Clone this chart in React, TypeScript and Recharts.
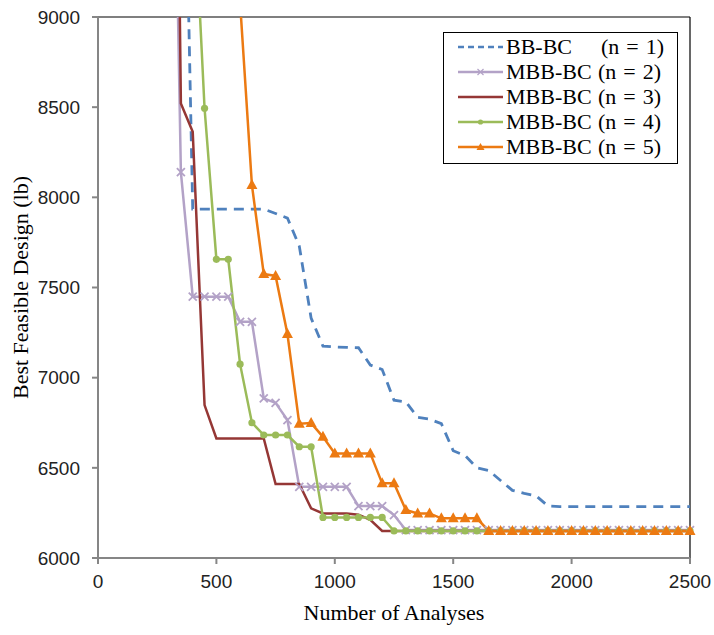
import React from 'react';
import { LineChart, Line, XAxis, YAxis, ReferenceLine } from 'recharts';

// number of analyses, sampled every 50
const analyses = [
  300, 350, 400, 450, 500, 550, 600, 650, 700, 750, 800, 850, 900, 950, 1000, 1050,
  1100, 1150, 1200, 1250, 1300, 1350, 1400, 1450, 1500, 1550, 1600, 1650, 1700, 1750,
  1800, 1850, 1900, 1950, 2000, 2050, 2100, 2150, 2200, 2250, 2300, 2350, 2400, 2450, 2500,
];

const bbbcN1 = [
  null, 11100, 7935, 7935, 7935, 7935, 7935, 7935, 7935, 7910, 7885, 7730, 7330, 7175, 7170, 7168,
  7166, 7070, 7045, 6875, 6866, 6780, 6770, 6745, 6595, 6568, 6500, 6485, 6430, 6375,
  6358, 6345, 6288, 6285, 6285, 6285, 6285, 6285, 6285, 6285, 6285, 6285, 6285, 6285, 6285,
];

const mbbcN2 = [
  11700, 8140, 7449, 7449, 7449, 7449, 7310, 7310, 6885, 6860, 6765, 6395, 6395, 6395, 6395, 6395,
  6288, 6288, 6288, 6238, 6155, 6155, 6155, 6155, 6155, 6155, 6155, 6155, 6155, 6155,
  6155, 6155, 6155, 6155, 6155, 6155, 6155, 6155, 6155, 6155, 6155, 6155, 6155, 6155, 6155,
];

const mbbcN3 = [
  14000, 8521, 8364, 6848, 6663, 6663, 6663, 6663, 6663, 6410, 6410, 6410, 6275, 6247, 6247, 6247,
  6240, 6212, 6150, 6150, 6150, 6150, 6150, 6150, 6150, 6150, 6150, 6150, 6150, 6150,
  6150, 6150, 6150, 6150, 6150, 6150, 6150, 6150, 6150, 6150, 6150, 6150, 6150, 6150, 6150,
];

const mbbcN4 = [
  null, null, 9825, 8494, 7656, 7656, 7075, 6750, 6682, 6682, 6682, 6617, 6617, 6225, 6225, 6225,
  6225, 6225, 6225, 6150, 6150, 6150, 6150, 6150, 6150, 6150, 6150, 6150, 6150, 6150,
  6150, 6150, 6150, 6150, 6150, 6150, 6150, 6150, 6150, 6150, 6150, 6150, 6150, 6150, 6150,
];

const mbbcN5 = [
  null, null, null, null, null, null, 9080, 8068, 7575, 7564, 7242, 6745, 6748, 6672, 6580, 6580,
  6580, 6580, 6414, 6414, 6266, 6247, 6247, 6220, 6220, 6220, 6220, 6150, 6150, 6150,
  6150, 6150, 6150, 6150, 6150, 6150, 6150, 6150, 6150, 6150, 6150, 6150, 6150, 6150, 6150,
];

const xTicks = [0, 500, 1000, 1500, 2000, 2500];
const yTicks = [6000, 6500, 7000, 7500, 8000, 8500, 9000];

const chartData = analyses.map((x, i) => ({
  x,
  n1: bbbcN1[i],
  n2: mbbcN2[i],
  n3: mbbcN3[i],
  n4: mbbcN4[i],
  n5: mbbcN5[i],
}));

const COLORS = {
  n1: '#4F81BD',
  n2: '#B3A2C7',
  n3: '#953735',
  n4: '#9BBB59',
  n5: '#EC7A12',
};

const serif = '"Liberation Serif", "Times New Roman", serif';
const sans = '"Liberation Sans", Arial, sans-serif';
const axisGray = '#868686';

function markerShape(shape: string, color: string, cx: number, cy: number) {
  if (shape === 'cross') {
    return (
      <path
        d={`M${cx - 4},${cy - 4}L${cx + 4},${cy + 4}M${cx - 4},${cy + 4}L${cx + 4},${cy - 4}`}
        stroke={color}
        strokeWidth={1.8}
        fill="none"
      />
    );
  }
  if (shape === 'circle') {
    return <circle cx={cx} cy={cy} r={3.6} fill={color} stroke="none" />;
  }
  if (shape === 'triangle') {
    return <path d={`M${cx},${cy - 6}L${cx + 5.5},${cy + 4}L${cx - 5.5},${cy + 4}Z`} fill={color} />;
  }
  return null;
}

const makeDot = (shape: string, color: string) => (props: any) => {
  const { cx, cy, index, value } = props;
  if (value == null || cx == null || cy == null) return <g key={`dot-${shape}-${index}`} />;
  return <g key={`dot-${shape}-${index}`}>{markerShape(shape, color, cx, cy)}</g>;
};

const legendItems = [
  { name: 'BB-BC', n: 1, color: COLORS.n1, dash: '6 4', shape: '' },
  { name: 'MBB-BC', n: 2, color: COLORS.n2, dash: '', shape: 'cross' },
  { name: 'MBB-BC', n: 3, color: COLORS.n3, dash: '', shape: '' },
  { name: 'MBB-BC', n: 4, color: COLORS.n4, dash: '', shape: 'circle' },
  { name: 'MBB-BC', n: 5, color: COLORS.n5, dash: '', shape: 'triangle' },
];

const LegendBox = () => (
  <div
    style={{
      position: 'absolute',
      left: 443,
      top: 32,
      width: 233,
      height: 129,
      border: '1.5px solid #000',
      background: '#fff',
      fontFamily: serif,
      fontSize: 22,
      color: '#000',
      paddingTop: 1,
      boxSizing: 'content-box',
    }}
  >
    {legendItems.map((it) => (
      <div key={it.n} style={{ height: 25, display: 'flex', alignItems: 'center', whiteSpace: 'pre' }}>
        <svg width={62} height={16} style={{ flex: 'none' }}>
          <line
            x1={14}
            x2={59}
            y1={8}
            y2={8}
            stroke={it.color}
            strokeWidth={2.5}
            strokeDasharray={it.dash || undefined}
          />
          {it.shape === 'cross' && (
            <path d="M33.5,5L39.5,11M33.5,11L39.5,5" stroke={it.color} strokeWidth={1.2} />
          )}
          {it.shape === 'circle' && <circle cx={36.5} cy={8} r={2.6} fill={it.color} />}
          {it.shape === 'triangle' && <path d="M36.5,4L40.5,11L32.5,11Z" fill={it.color} />}
        </svg>
        <span style={{ display: 'inline-block', flex: 'none', width: it.n === 1 ? 95 : 92 }}>{it.name}</span>
        <span style={{ wordSpacing: 1.5 }}>{`(n = ${it.n})`}</span>
      </div>
    ))}
  </div>
);

export default function App() {
  return (
    <div style={{ position: 'absolute', left: 0, top: 0, width: 714, height: 635, background: '#fff' }}>
      <LineChart width={714} height={635} data={chartData} margin={{ top: 17, right: 24, left: 0, bottom: 0 }}>
        <XAxis
          dataKey="x"
          type="number"
          domain={[0, 2500]}
          ticks={xTicks}
          interval={0}
          height={77}
          stroke={axisGray}
          strokeWidth={2}
          tickSize={6}
          tickMargin={11}
          tick={{ fill: '#222', fontFamily: sans, fontSize: 19 }}
          tickLine={{ stroke: axisGray, strokeWidth: 2 }}
          label={{
            value: 'Number of Analyses',
            position: 'insideBottom',
            offset: 15,
            style: { fontFamily: serif, fontSize: 22, fill: '#000' },
          }}
        />
        <YAxis
          type="number"
          domain={[6000, 9000]}
          ticks={yTicks}
          interval={0}
          allowDataOverflow
          width={98}
          stroke={axisGray}
          strokeWidth={2}
          tickSize={6}
          tickMargin={12}
          tick={{ fill: '#222', fontFamily: sans, fontSize: 19 }}
          tickLine={{ stroke: axisGray, strokeWidth: 2 }}
          label={{
            value: 'Best Feasible Design (lb)',
            angle: -90,
            position: 'insideLeft',
            offset: 20,
            style: { fontFamily: serif, fontSize: 22, fill: '#000', textAnchor: 'middle' },
          }}
        />
        <ReferenceLine y={9000} stroke="#000" strokeWidth={1.2} />
        <ReferenceLine x={2500} stroke="#000" strokeWidth={1.2} />
        <Line
          dataKey="n1"
          stroke={COLORS.n1}
          strokeWidth={2.8}
          strokeDasharray="10 7"
          dot={false}
          activeDot={false}
          isAnimationActive={false}
        />
        <Line
          dataKey="n2"
          stroke={COLORS.n2}
          strokeWidth={2.5}
          dot={makeDot('cross', COLORS.n2)}
          activeDot={false}
          isAnimationActive={false}
        />
        <Line
          dataKey="n3"
          stroke={COLORS.n3}
          strokeWidth={2.5}
          dot={false}
          activeDot={false}
          isAnimationActive={false}
        />
        <Line
          dataKey="n4"
          stroke={COLORS.n4}
          strokeWidth={2.5}
          dot={makeDot('circle', COLORS.n4)}
          activeDot={false}
          isAnimationActive={false}
        />
        <Line
          dataKey="n5"
          stroke={COLORS.n5}
          strokeWidth={2.5}
          dot={makeDot('triangle', COLORS.n5)}
          activeDot={false}
          isAnimationActive={false}
        />
      </LineChart>
      <LegendBox />
    </div>
  );
}
